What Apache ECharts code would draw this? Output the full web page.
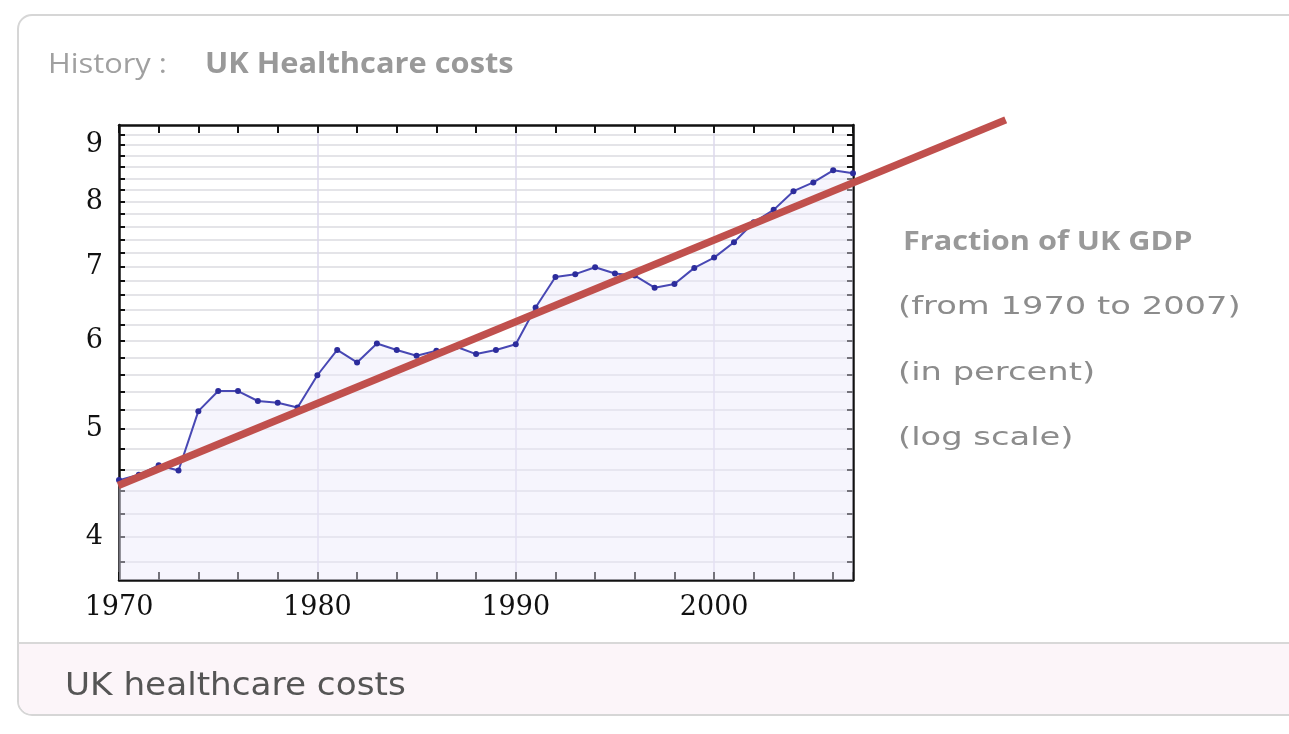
<!DOCTYPE html>
<html lang="en">
<head>
	<meta charset="UTF-8">
	<title>UK Healthcare costs</title>
	<style>
		html, body { margin: 0; padding: 0; background: #fff; }
		#box { width: 1289px; height: 734px; }
	</style>
</head>
<body>
	<div id="box"></div>
	<script src="https://cdn.jsdelivr.net/npm/echarts@6/dist/echarts.min.js"></script>
	<script>
		// data (percent of GDP, log axis)
		var years = [1970, 1971, 1972, 1973, 1974, 1975, 1976, 1977, 1978, 1979,
			1980, 1981, 1982, 1983, 1984, 1985, 1986, 1987, 1988, 1989,
			1990, 1991, 1992, 1993, 1994, 1995, 1996, 1997, 1998, 1999,
			2000, 2001, 2002, 2003, 2004, 2005, 2006, 2007];
		var share = [4.50, 4.55, 4.64, 4.59, 5.19, 5.41, 5.41, 5.30, 5.28, 5.23,
			5.59, 5.89, 5.74, 5.97, 5.89, 5.82, 5.88, 5.93, 5.84, 5.89,
			5.96, 6.43, 6.85, 6.89, 6.99, 6.90, 6.87, 6.70, 6.75, 6.98,
			7.13, 7.36, 7.67, 7.87, 8.18, 8.33, 8.54, 8.49];

		// red trend line drawn on top (two ends), it runs past the plot box
		var trendYears = [1969.96, 2014.7];
		var trendValues = [4.45, 9.48];

		// ticks
		var xLabels = [1970, 1980, 1990, 2000];
		var yLabels = [4, 5, 6, 7, 8, 9];
		var yTicks = [3.8, 4, 4.2, 4.4, 4.6, 4.8, 5, 5.2, 5.4, 5.6, 5.8, 6, 6.2, 6.4,
			6.6, 6.8, 7, 7.2, 7.4, 7.6, 7.8, 8, 8.2, 8.4, 8.6, 8.8, 9, 9.2];

		var myChart = echarts.init(document.getElementById('box'));

		var frame = { show: true, lineStyle: { color: '#111', width: 2.5 } };
		var serif = 'DejaVu Serif';
		var plain = function (v) { return String(v); };
		var hidden = { axisLine: { show: false }, axisTick: { show: false }, axisLabel: { show: false }, splitLine: { show: false } };

		var option = {
			animation: false,
			backgroundColor: '#fff',
			grid: [
				{ left: 119, top: 125, width: 734, height: 455, containLabel: false },
				// wider box, same scales, for the trend line
				{ left: 119, top: 110, width: 887.5, height: 470, containLabel: false }
			],
			xAxis: [{
				type: 'value', min: 1970, max: 2007, interval: 2, position: 'bottom',
				axisLine: frame,
				axisTick: { inside: true, length: 8, lineStyle: { color: '#111', width: 2 } },
				axisLabel: { customValues: xLabels, formatter: plain, fontFamily: serif, fontSize: 27, color: '#111', margin: 14 },
				splitLine: { show: false }
			}, {
				type: 'value', min: 1970, max: 2007, interval: 2, position: 'top',
				axisLine: frame,
				axisTick: { inside: true, length: 8, lineStyle: { color: '#111', width: 2 } },
				axisLabel: { show: false },
				splitLine: { show: false }
			}, {
				type: 'value', min: 1970, max: 2007, interval: 10, position: 'bottom',
				axisLine: { show: false }, axisTick: { show: false }, axisLabel: { show: false },
				splitLine: { show: true, lineStyle: { color: '#dcd8ec', width: 1.5 } }
			}, echarts.util.merge({
				type: 'value', gridIndex: 1, min: 1970, max: 2014.74
			}, hidden)],
			yAxis: [{
				type: 'log', logBase: 10, min: 3.66, max: 9.38, position: 'left',
				axisLine: frame,
				axisTick: { inside: true, length: 6, customValues: yTicks, lineStyle: { color: '#111', width: 2 } },
				axisLabel: { customValues: yLabels, formatter: plain, fontFamily: serif, fontSize: 27, color: '#111', margin: 16 },
				splitLine: { show: true, lineStyle: { color: '#e4e4e8', width: 2 } }
			}, {
				type: 'log', logBase: 10, min: 3.66, max: 9.38, position: 'right',
				axisLine: frame,
				axisTick: { inside: true, length: 6, customValues: yTicks, lineStyle: { color: '#111', width: 2 } },
				axisLabel: { show: false },
				splitLine: { show: false }
			}, echarts.util.merge({
				type: 'log', logBase: 10, gridIndex: 1, min: 3.66, max: 9.675
			}, hidden)],
			series: [{
				name: 'share',
				type: 'line',
				data: years.map(function (y, i) { return [y, share[i]]; }),
				symbol: 'circle',
				symbolSize: 6,
				itemStyle: { color: '#2c2c9c' },
				lineStyle: { color: '#4848b4', width: 2 },
				areaStyle: { color: '#ece8fb', opacity: 0.45, origin: 'start' },
				z: 3
			}, {
				name: 'trend',
				type: 'line',
				xAxisIndex: 3,
				yAxisIndex: 2,
				data: trendYears.map(function (y, i) { return [y, trendValues[i]]; }),
				symbol: 'none',
				clip: false,
				lineStyle: { color: '#c0504d', width: 7.5 },
				z: 5
			}],
			graphic: [{
				type: 'rect', z: -10,
				shape: { x: 18, y: 15, width: 1300, height: 700, r: 14 },
				style: { fill: '#fff', stroke: '#d6d6d6', lineWidth: 2 }
			}, {
				type: 'rect', z: -9,
				shape: { x: 19, y: 643, width: 1300, height: 71, r: [0, 0, 0, 13] },
				style: { fill: '#fcf5f9' }
			}, {
				type: 'line', z: -8,
				shape: { x1: 18, y1: 643, x2: 1289, y2: 643 },
				style: { stroke: '#d8d8d8', lineWidth: 2 }
			}, {
				type: 'text', x: 48, y: 65, scaleX: 1.1, z: 10,
				style: { text: 'History :', fontFamily: 'Open Sans', fontSize: 28, fill: '#a0a0a0', verticalAlign: 'middle' }
			}, {
				type: 'text', x: 205, y: 65, scaleX: 1.1, z: 10,
				style: { text: 'UK Healthcare costs', fontFamily: 'Open Sans', fontWeight: 'bold', fontSize: 28, fill: '#999', verticalAlign: 'middle' }
			}, {
				type: 'text', x: 903, y: 243, scaleX: 1.18, z: 10,
				style: { text: 'Fraction of UK GDP', fontFamily: 'Open Sans', fontWeight: 'bold', fontSize: 26, fill: '#999', verticalAlign: 'middle' }
			}, {
				type: 'text', x: 898, y: 307, scaleX: 1.35, z: 10,
				style: { text: '(from 1970 to 2007)', fontFamily: 'DejaVu Sans', fontSize: 25, fill: '#8c8c8c', verticalAlign: 'middle' }
			}, {
				type: 'text', x: 898, y: 373, scaleX: 1.35, z: 10,
				style: { text: '(in percent)', fontFamily: 'DejaVu Sans', fontSize: 25, fill: '#8c8c8c', verticalAlign: 'middle' }
			}, {
				type: 'text', x: 898, y: 438, scaleX: 1.35, z: 10,
				style: { text: '(log scale)', fontFamily: 'DejaVu Sans', fontSize: 25, fill: '#8c8c8c', verticalAlign: 'middle' }
			}, {
				type: 'text', x: 65, y: 687, scaleX: 1.07, z: 10,
				style: { text: 'UK healthcare costs', fontFamily: 'DejaVu Sans', fontSize: 32, fill: '#555', verticalAlign: 'middle' }
			}]
		};

		myChart.setOption(option);
	</script>
</body>
</html>
